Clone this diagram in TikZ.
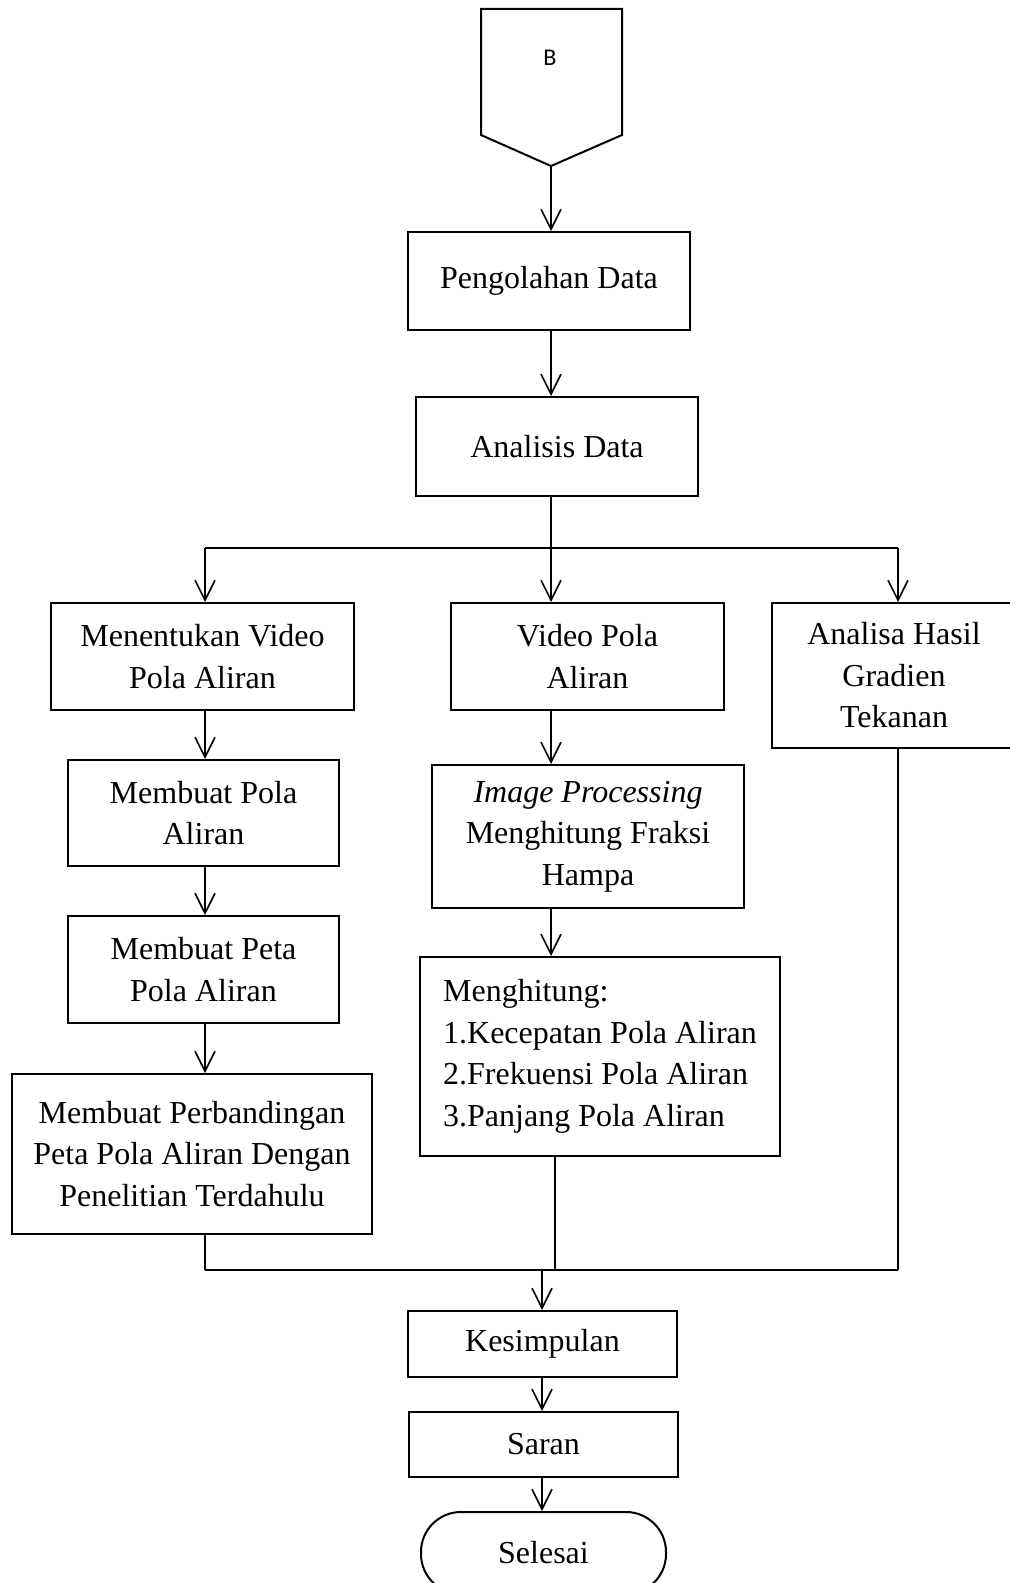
\documentclass[tikz,border=0pt]{standalone}
\usepackage{fontspec}
\setmainfont{Liberation Serif}
\newfontfamily\labelfont{Carlito}
\usetikzlibrary{arrows.meta}
\pgfdeclarelayer{edgelayer}
\pgfdeclarelayer{nodelayer}
\pgfsetlayers{edgelayer,nodelayer,main}
\tikzset{font=\fontsize{16}{20.75}\selectfont}
\tikzstyle{none}=[inner sep=0pt]
\tikzstyle{box}=[rectangle,draw,line width=1pt,align=center,inner sep=0pt]
\tikzstyle{term}=[rectangle,draw,line width=1pt,rounded corners=20pt,inner sep=0pt]
\tikzstyle{arr}=[line width=0.8pt,-{Straight Barb[length=10pt,width=10pt]}]
\tikzstyle{line}=[line width=0.8pt]

\begin{document}
\begin{tikzpicture}[x=5pt,y=5pt]
	\useasboundingbox (0,0) rectangle (100.9,-158.3);
	\begin{pgfonlayer}{nodelayer}
		\draw [line width=1pt] (48.1,-0.9) -- (62.2,-0.9) -- (62.2,-13.5) -- (55.1,-16.6) -- (48.1,-13.5) -- cycle;
		\node [style=none, font=\labelfont\fontsize{12}{14}\selectfont] (0) at (55.0, -5.8) {B};
		\coordinate (1) at (55.1, -16.6);
		\node [style=box, minimum width=141pt, minimum height=49pt] (2) at (54.9, -28.1) {Pengolahan Data};
		\node [style=box, minimum width=141pt, minimum height=49.5pt] (3) at (55.7, -44.65) {Analisis Data};
		\node [style=box, minimum width=151.5pt, minimum height=53.5pt] (4) at (20.25, -65.65) {Menentukan Video\\Pola Aliran};
		\node [style=box, minimum width=136.5pt, minimum height=53.5pt] (5) at (58.75, -65.65) {Video Pola\\Aliran};
		\node [style=box, minimum width=122pt, minimum height=72.5pt] (6) at (89.4, -67.55) {Analisa Hasil\\Gradien\\Tekanan};
		\node [style=box, minimum width=135.5pt, minimum height=53pt] (7) at (20.35, -81.3) {Membuat Pola\\Aliran};
		\node [style=box, minimum width=135.5pt, minimum height=53.5pt] (8) at (20.35, -96.95) {Membuat Peta\\Pola Aliran};
		\node [style=box, minimum width=180pt, minimum height=80pt] (9) at (19.2, -115.4) {Membuat Perbandingan\\Peta Pola Aliran Dengan\\Penelitian Terdahulu};
		\node [style=box, minimum width=156pt, minimum height=71.5pt] (10) at (58.8, -83.65) {\textit{Image Processing}\\Menghitung Fraksi\\Hampa};
		\node [style=box, align=left, minimum width=180pt, minimum height=99.5pt] (11) at (60.0, -105.65) {Menghitung:\\1.Kecepatan Pola Aliran\\2.Frekuensi Pola Aliran\\3.Panjang Pola Aliran};
		\node [style=box, minimum width=134.5pt, minimum height=33pt] (12) at (54.25, -134.4) {Kesimpulan};
		\node [style=box, minimum width=134.5pt, minimum height=32.5pt] (13) at (54.35, -144.45) {Saran};
		\node [style=term, minimum width=122.5pt, minimum height=41pt] (14) at (54.35, -155.3) {Selesai};
		\node [style=none] (15) at (20.5, -54.8) {};
		\node [style=none] (16) at (55.1, -54.8) {};
		\node [style=none] (17) at (89.8, -54.8) {};
		\node [style=none] (18) at (20.5, -127.0) {};
		\node [style=none] (19) at (55.5, -127.0) {};
		\node [style=none] (20) at (89.8, -127.0) {};
		\node [style=none] (21) at (54.2, -127.0) {};
	\end{pgfonlayer}
	\begin{pgfonlayer}{edgelayer}
		\draw [style=arr] (1) to (1 |- 2.north);
		\draw [style=arr] (16 |- 2.south) to (16 |- 3.north);
		\draw [style=line] (16 |- 3.south) to (16.center);
		\draw [style=line] (15.center) to (17.center);
		\draw [style=arr] (15.center) to (15 |- 4.north);
		\draw [style=arr] (16.center) to (16 |- 5.north);
		\draw [style=arr] (17.center) to (17 |- 6.north);
		\draw [style=arr] (15 |- 4.south) to (15 |- 7.north);
		\draw [style=arr] (15 |- 7.south) to (15 |- 8.north);
		\draw [style=arr] (15 |- 8.south) to (15 |- 9.north);
		\draw [style=arr] (16 |- 5.south) to (16 |- 10.north);
		\draw [style=arr] (16 |- 10.south) to (16 |- 11.north);
		\draw [style=line] (15 |- 9.south) to (18.center);
		\draw [style=line] (19 |- 11.south) to (19.center);
		\draw [style=line] (17 |- 6.south) to (20.center);
		\draw [style=line] (18.center) to (20.center);
		\draw [style=arr] (21.center) to (21 |- 12.north);
		\draw [style=arr] (21 |- 12.south) to (21 |- 13.north);
		\draw [style=arr] (21 |- 13.south) to (21 |- 14.north);
	\end{pgfonlayer}
\end{tikzpicture}
\end{document}
